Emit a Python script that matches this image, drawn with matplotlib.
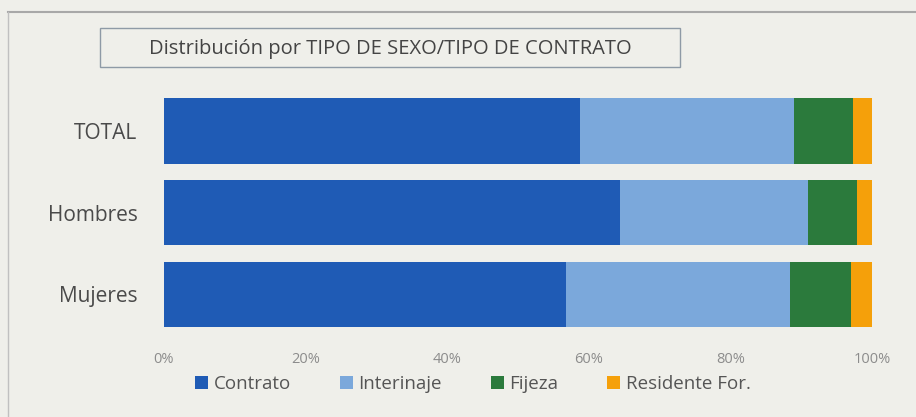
import matplotlib
matplotlib.use("Agg")
import matplotlib.pyplot as plt
from matplotlib.patches import Rectangle
from matplotlib.lines import Line2D
from matplotlib.ticker import PercentFormatter

categories = ["TOTAL", "Hombres", "Mujeres"]
series_names = ["Contrato", "Interinaje", "Fijeza", "Residente For."]
contrato = [58.8, 64.4, 56.8]
interinaje = [30.2, 26.6, 31.6]
fijeza = [8.3, 6.9, 8.6]
residente = [2.7, 2.1, 3.0]
colors = ["#1f5bb5", "#7ba8db", "#2b7a3c", "#f5a00a"]
xticks = [0, 20, 40, 60, 80, 100]

plt.rcParams['font.family'] = ['Open Sans', 'DejaVu Sans']
bg = "#efefea"
fig = plt.figure(figsize=(9.16, 4.17), dpi=100, facecolor=bg)
W, H = 916, 417
ax = fig.add_axes([164 / W, 1 - 335 / H, (872 - 164) / W, (335 - 90) / H])
ax.set_facecolor(bg)

left = [0, 0, 0]
for name, vals, c in zip(series_names, [contrato, interinaje, fijeza, residente], colors):
    ax.barh(categories, vals, left=left, height=0.8, color=c, label=name)
    left = [l + v for l, v in zip(left, vals)]

ax.set_xlim(0, 100)
ax.set_ylim(2.5, -0.5)
ax.set_xticks(xticks)
ax.xaxis.set_major_formatter(PercentFormatter(decimals=0))
for s in ax.spines.values():
    s.set_visible(False)
ax.tick_params(axis='x', length=0, pad=12, labelsize=10.5, labelcolor="#8c8c8c")
ax.tick_params(axis='y', length=0, pad=19, labelsize=15, labelcolor="#4a4a4a")

leg = fig.legend(loc='center', bbox_to_anchor=(473 / W, 1 - 384 / H), ncol=4,
                 frameon=False, fontsize=13.5, handlelength=0.7, handleheight=0.7,
                 handletextpad=0.3, columnspacing=2.6, labelcolor="#555555",
                 borderpad=0, borderaxespad=0)

# title box
fig.patches.append(Rectangle((100 / W, 1 - 67 / H), 580 / W, 39 / H, transform=fig.transFigure,
                             facecolor=bg, edgecolor="#8e9aa6", linewidth=1.0))
fig.text(390 / W, 1 - 49 / H, "Distribución por TIPO DE SEXO/TIPO DE CONTRATO",
         ha='center', va='center', fontsize=14.5, color="#444444")

# page borders
fig.add_artist(Line2D([8 / W, 1], [1 - 12 / H, 1 - 12 / H], transform=fig.transFigure,
                      color="#a8a8a8", linewidth=1.5))
fig.add_artist(Line2D([8 / W, 8 / W], [1 - 12 / H, 0], transform=fig.transFigure,
                      color="#c0c0c0", linewidth=1.0))

fig.savefig("out.png", dpi=100, facecolor=bg)
